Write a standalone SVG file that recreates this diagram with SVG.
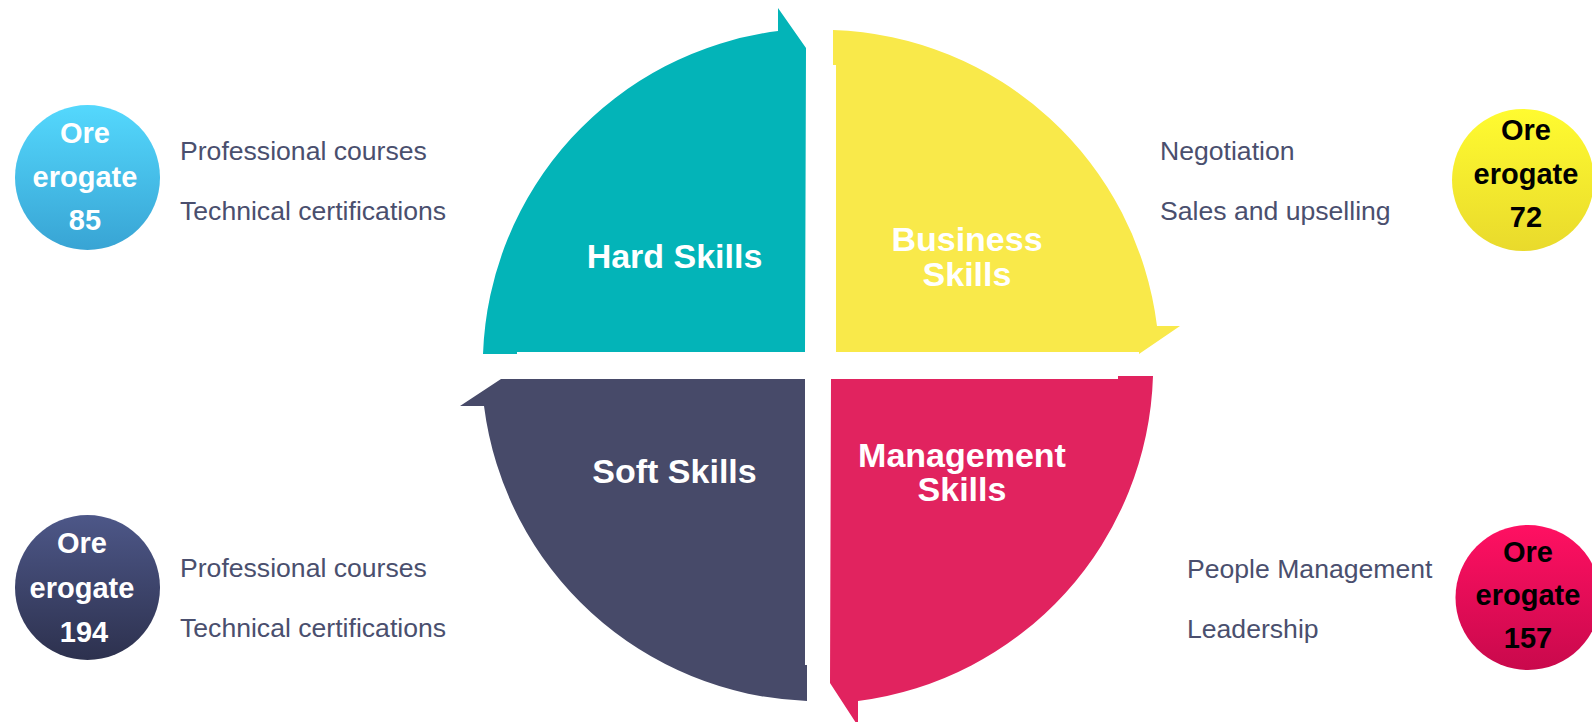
<svg xmlns="http://www.w3.org/2000/svg" width="1592" height="722" viewBox="0 0 1592 722">
  <defs>
    <linearGradient id="gCyan" x1="0" y1="0" x2="0" y2="1">
      <stop offset="0" stop-color="#54d8fd"/>
      <stop offset="1" stop-color="#38a4d4"/>
    </linearGradient>
    <linearGradient id="gYellow" x1="0" y1="0" x2="0" y2="1">
      <stop offset="0" stop-color="#fffb30"/>
      <stop offset="1" stop-color="#e9da2c"/>
    </linearGradient>
    <linearGradient id="gDark" x1="0" y1="0" x2="0" y2="1">
      <stop offset="0" stop-color="#4d5788"/>
      <stop offset="1" stop-color="#2d314e"/>
    </linearGradient>
    <linearGradient id="gPink" x1="0" y1="0" x2="0" y2="1">
      <stop offset="0" stop-color="#ff1062"/>
      <stop offset="1" stop-color="#c9094c"/>
    </linearGradient>
  </defs>
  <style>
    .q { font-family: "Liberation Sans", Arial, sans-serif; font-weight: bold; font-size: 34px; fill: #ffffff; text-anchor: middle; }
    .side { font-family: "Liberation Sans", Arial, sans-serif; font-size: 26.6px; fill: #4a4f6e; }
    .badge { font-family: "Liberation Sans", Arial, sans-serif; font-weight: bold; font-size: 29px; text-anchor: middle; }
    .w { fill: #ffffff; }
    .k { fill: #000000; }
  </style>

  <g id="hard-skills">
    <path d="M 805 352 L 517 352 L 517 354 L 483 354 A 338 338 0 0 1 778 31 L 778 8 L 806 48 Z" fill="#03b4b8"/>
    <text class="q" x="674.5" y="268">Hard Skills</text>
  </g>

  <g id="business-skills">
    <path d="M 836 352 L 836 65 L 833 65 L 833 30 A 338 338 0 0 1 1157 326 L 1180 326 L 1139 354 L 1139 352 Z" fill="#f9e94a"/>
    <text class="q" x="967" y="251">Business</text>
    <text class="q" x="967" y="286">Skills</text>
  </g>

  <g id="management-skills">
    <path d="M 831 379 L 1118 379 L 1118 376 L 1153 376 A 338 338 0 0 1 858 701 L 858 726 L 830 683 Z" fill="#e1235f"/>
    <text class="q" x="962" y="466.5">Management</text>
    <text class="q" x="962" y="501">Skills</text>
  </g>

  <g id="soft-skills">
    <path d="M 805 379 L 501 379 L 460 406 L 484 406 A 338 338 0 0 0 807 701 L 807 665 L 805 665 Z" fill="#474a69"/>
    <text class="q" x="674.5" y="483">Soft Skills</text>
  </g>

  <g id="hard-details">
    <text class="side" x="180" y="160">Professional courses</text>
    <text class="side" x="180" y="220">Technical certifications</text>
  </g>
  <g id="business-details">
    <text class="side" x="1160" y="160">Negotiation</text>
    <text class="side" x="1160" y="220">Sales and upselling</text>
  </g>
  <g id="soft-details">
    <text class="side" x="180" y="577">Professional courses</text>
    <text class="side" x="180" y="637">Technical certifications</text>
  </g>
  <g id="management-details">
    <text class="side" x="1187" y="578">People Management</text>
    <text class="side" x="1187" y="638">Leadership</text>
  </g>

  <g id="badge-hard">
    <circle cx="87.5" cy="177.5" r="72.5" fill="url(#gCyan)"/>
    <text class="badge w" x="85" y="143">Ore</text>
    <text class="badge w" x="85" y="187">erogate</text>
    <text class="badge w" x="85" y="230">85</text>
  </g>
  <g id="badge-business">
    <circle cx="1523" cy="180" r="71" fill="url(#gYellow)"/>
    <text class="badge k" x="1526" y="140">Ore</text>
    <text class="badge k" x="1526" y="184">erogate</text>
    <text class="badge k" x="1526" y="227">72</text>
  </g>
  <g id="badge-soft">
    <circle cx="87.5" cy="587.5" r="72.5" fill="url(#gDark)"/>
    <text class="badge w" x="82" y="553">Ore</text>
    <text class="badge w" x="82" y="598">erogate</text>
    <text class="badge w" x="84" y="642">194</text>
  </g>
  <g id="badge-management">
    <circle cx="1528" cy="597.5" r="72.5" fill="url(#gPink)"/>
    <text class="badge k" x="1528" y="562">Ore</text>
    <text class="badge k" x="1528" y="605">erogate</text>
    <text class="badge k" x="1528" y="648">157</text>
  </g>

  <g id="connectors"></g>
</svg>
